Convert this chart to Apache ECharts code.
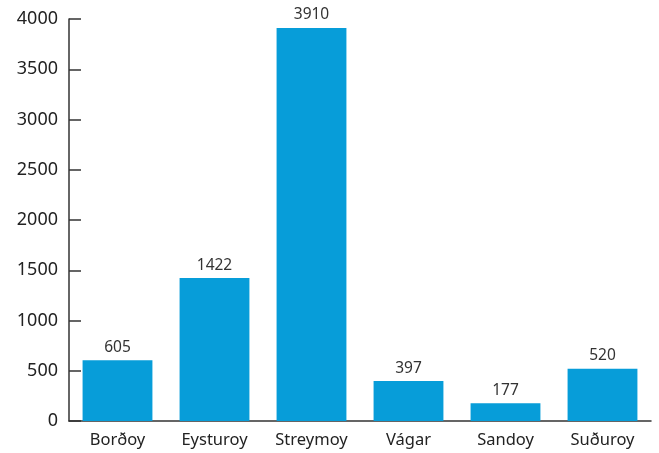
<!DOCTYPE html>
<html>
<head>
<meta charset="utf-8">
<script src="https://cdn.jsdelivr.net/npm/echarts@6/dist/echarts.min.js"></script>
<style>
  html, body { margin: 0; padding: 0; background: #fff; }
</style>
</head>
<body>
<div id="chart" style="width: 659px; height: 453px;"></div>
<script>
  var islands = ['Borðoy', 'Eysturoy', 'Streymoy', 'Vágar', 'Sandoy', 'Suðuroy'];
  var counts = [605, 1422, 3910, 397, 177, 520];

  var axisColor = '#333333';
  var chart = echarts.init(document.getElementById('chart'));
  chart.setOption({
    animation: false,
    textStyle: { fontFamily: 'Noto Sans' },
    grid: { left: 69, right: 8, top: 19, bottom: 32 },
    xAxis: {
      type: 'category',
      data: islands,
      axisLine: { lineStyle: { color: axisColor, width: 1.5 } },
      axisTick: { inside: true, length: 10, lineStyle: { color: axisColor, width: 1.5 } },
      axisLabel: { color: '#222', fontSize: 16.5, margin: 11 }
    },
    yAxis: {
      type: 'value',
      min: 0,
      max: 4000,
      interval: 500,
      splitLine: { show: false },
      axisLine: { show: true, lineStyle: { color: axisColor, width: 1.5 } },
      axisTick: { show: true, inside: true, length: 12, lineStyle: { color: axisColor, width: 1.5 } },
      axisLabel: {
        color: '#222', fontSize: 18, margin: 11,
        formatter: function (v) { return String(v); }
      }
    },
    series: [{
      type: 'bar',
      data: counts,
      barWidth: '72%',
      itemStyle: { color: '#079dd9' },
      label: { show: true, position: 'top', color: '#333', fontSize: 15.5, distance: 5 }
    }]
  });
</script>
</body>
</html>
